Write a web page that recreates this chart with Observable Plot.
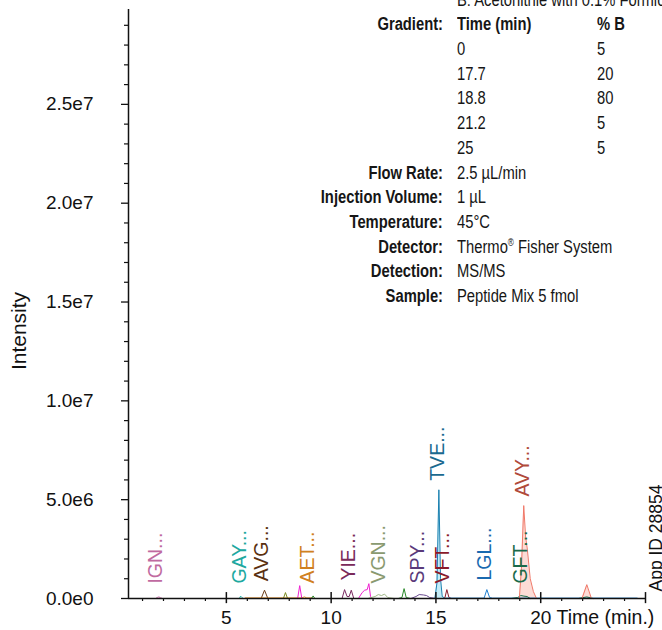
<!DOCTYPE html>
<html><head><meta charset="utf-8">
<script src="https://cdn.jsdelivr.net/npm/d3@7"></script>
<script src="https://cdn.jsdelivr.net/npm/@observablehq/plot@0.6"></script>
<style>
body{margin:0;background:#fff;}
#wrap{position:relative;width:662px;height:630px;overflow:hidden;background:#fff;}
#info{position:absolute;left:0;top:-12.3px;width:662px;font-family:"Liberation Sans",Arial,sans-serif;font-size:18px;line-height:24.7px;color:#161616;}
.row{position:relative;height:24.7px;white-space:nowrap;}
.row span{display:inline-block;transform:scaleX(0.82);}
.lab{position:absolute;right:219px;font-weight:bold;transform-origin:right center;}
.v1{position:absolute;left:457px;transform-origin:left center;}
.v2{position:absolute;left:597px;transform-origin:left center;}
.b{font-weight:bold;}
sup{font-size:10px;line-height:0;vertical-align:7px;}
</style></head>
<body><div id="wrap"><div id="chart"></div><div id="info"></div></div>
<script>
// ---- method text ----
const mobilePhaseB = "B: Acetonitrile with 0.1% Formic Acid";
const gradientHeader = ["Time (min)", "% B"];
const gradientTime = ["0", "17.7", "18.8", "21.2", "25"];
const gradientPctB = ["5", "20", "80", "5", "5"];
const conditionLabels = ["Flow Rate:", "Injection Volume:", "Temperature:", "Detector:", "Detection:", "Sample:"];
const conditionValues = ["2.5 µL/min", "1 µL", "45°C", "Thermo® Fisher System", "MS/MS", "Peptide Mix 5 fmol"];
const appId = "App ID 28854";

// ---- axes ----
const xDomain = [0.33, 25];
const yDomain = [0, 2.98e7];
const xMajor = [5, 10, 15, 20, 25];
const xMajorLabels = ["5", "10", "15", "20", ""];
const xMinor = [1,2,3,4,6,7,8,9,11,12,13,14,16,17,18,19,21,22,23,24];
const yMajor = [0, 5e6, 1e7, 1.5e7, 2e7, 2.5e7];
const yMinor = [1e6,2e6,3e6,4e6,6e6,7e6,8e6,9e6,11e6,12e6,13e6,14e6,16e6,17e6,18e6,19e6,21e6,22e6,23e6,24e6,26e6,27e6,28e6,29e6];

// ---- traces: [time (min), intensity] ----
const ignTrace = [[1.2,0],[1.62,0],[1.7,0.05e6],[1.78,0.08e6],[1.86,0.04e6],[1.95,0],[2.3,0]];
const gayTrace = [[5.4,0],[5.62,0],[5.68,0.12e6],[5.74,0.05e6],[5.8,0],[6.2,0]];
const avgTrace = [[6.2,0],[6.66,0],[6.82,0.42e6],[6.98,0],[7.5,0]];
const aetTrace = [[5.9,0.03e6],[8.6,0.03e6],[8.72,0.08e6],[8.84,0.03e6],[9.1,0.03e6]];
const oliveTrace = [[7.4,0],[7.72,0],[7.82,0.3e6],[7.92,0],[8.2,0]];
const magentaTrace = [[8.0,0],[8.4,0],[8.5,0.65e6],[8.6,0],[9.0,0],[11.3,0],[11.48,0.3e6],[11.6,0.42e6],[11.72,0.45e6],[11.8,0.75e6],[11.88,0.1e6],[11.95,0],[12.2,0]];
const greenTrace = [[8.9,0],[9.06,0],[9.14,0.13e6],[9.22,0],[13.2,0],[13.38,0.05e6],[13.48,0.5e6],[13.58,0.05e6],[13.8,0]];
const yieTrace = [[10.3,0],[10.52,0],[10.64,0.45e6],[10.76,0.1e6],[10.86,0.1e6],[10.96,0.42e6],[11.08,0],[11.4,0]];
const vgnTrace = [[11.8,0.02e6],[12.1,0.1e6],[12.25,0.2e6],[12.4,0.15e6],[12.55,0.22e6],[12.7,0.05e6],[13.0,0]];
const spyTrace = [[13.8,0],[14.05,0.1e6],[14.2,0.2e6],[14.4,0.18e6],[14.55,0.15e6],[14.7,0.05e6],[15.0,0]];
const tveTrace = [[13.0,0],[14.95,0],[15.05,0.8e6],[15.14,5.5e6],[15.22,1.0e6],[15.3,0.1e6],[15.45,0],[16.0,0]];
const vftTrace = [[15.2,0],[15.42,0],[15.52,0.45e6],[15.62,0.05e6],[15.75,0],[16.2,0]];
const lglTrace = [[15.5,0.02e6],[17.3,0.02e6],[17.43,0.45e6],[17.56,0.05e6],[17.7,0.02e6],[24.6,0.02e6]];
const gftTrace = [[18.6,0],[18.9,0.05e6],[19.05,0.15e6],[19.2,0.12e6],[19.35,0.1e6],[19.5,0],[21.8,0],[22.2,0.08e6],[22.5,0]];
const avyTrace = [[18.7,0],[18.98,0],[19.08,1.5e6],[19.19,4.7e6],[19.28,3.1e6],[19.36,2.5e6],[19.5,1.0e6],[19.65,0.35e6],[19.8,0],[21.8,0],[21.97,0],[22.2,0.7e6],[22.42,0],[22.8,0]];

const traceNames = ["IGN","GAY","AVG","AET","olive","magenta","green","YIE","VGN","SPY","TVE","VFT","LGL","GFT","AVY"];
const traceData = [ignTrace,gayTrace,avgTrace,aetTrace,oliveTrace,magentaTrace,greenTrace,yieTrace,vgnTrace,spyTrace,tveTrace,vftTrace,lglTrace,gftTrace,avyTrace];
const traceColors = ["#c86aa8","#22b0a8","#6b3c18","#e08a20","#7a8a20","#f020d0","#2a8a2a","#7a2a60","#a0b888","#6a4a90","#1a80b0","#8a2030","#2080d0","#1a7050","#f07868"];

// ---- peak labels ----
const peakLabels = ["IGN...","GAY...","AVG...","AET...","YIE...","VGN...","SPY...","VFT...","TVE...","LGL...","GFT...","AVY..."];
const peakLabelTime = [1.62,5.62,6.71,8.86,10.86,12.29,14.14,15.33,15.1,17.33,19.05,19.14];
const peakApex = [0.08e6,0.12e6,0.42e6,0.08e6,0.45e6,0.22e6,0.2e6,0.2e6,5.5e6,0.45e6,0.15e6,4.7e6];
const peakLabelColors = ["#c06aa0","#20a8a0","#5a3010","#d08020","#7a2a5a","#8a9a70","#5a3a7a","#8a1a2a","#1a6a90","#1a6ab0","#1a6a4a","#b04a3a"];

// ---- build tables ----
const lineRows = [];
traceData.forEach((pts, i) => pts.forEach(([t, v]) => lineRows.push({name: traceNames[i], color: traceColors[i], t, v})));
const labelRows = peakLabels.map((text, i) => ({text, t: peakLabelTime[i], v: Math.max(peakApex[i], 0.3e6), color: peakLabelColors[i]}));
const pt = d => ({t: d[0], v: d[1]});
const sci = d => d3.format(".1e")(d).replace("e+", "e");

const chart = Plot.plot({
  width: 662, height: 630,
  marginLeft: 128, marginRight: 17, marginTop: 9, marginBottom: 32,
  x: {domain: xDomain, axis: null},
  y: {domain: yDomain, axis: null},
  color: {type: "identity"},
  style: {fontFamily: "'Liberation Sans', Arial, sans-serif", fontSize: "19px", background: "white", color: "#111"},
  marks: [
    Plot.areaY(tveTrace.map(pt), {x: "t", y: "v", fill: "#c4ecf7"}),
    Plot.areaY(avyTrace.map(pt), {x: "t", y: "v", fill: "#fcdcd6"}),
    Plot.line(lineRows, {x: "t", y: "v", z: "name", stroke: "color", strokeWidth: 1}),
    Plot.text(labelRows, {x: "t", y: "v", text: "text", fill: "color", rotate: -90, textAnchor: "start", dy: -9, fontSize: 19.5}),
    Plot.ruleY([0], {stroke: "#111", strokeWidth: 1.5}),
    Plot.ruleX([xDomain[0]], {stroke: "#111", strokeWidth: 1.5}),
    Plot.axisY({ticks: yMajor, tickSize: 7, tickPadding: 28, tickFormat: sci, strokeWidth: 1.3, label: null}),
    Plot.axisY({ticks: yMinor, tickSize: 4, tickFormat: () => "", strokeWidth: 1.2, label: null}),
    Plot.ruleX(xMajor, {x: d => d, y1: -0.26e6, y2: 0.3e6, stroke: "#111", strokeWidth: 1.5}),
    Plot.axisX({ticks: xMajor, tickSize: 0, tickPadding: 12, tickFormat: d => xMajorLabels[xMajor.indexOf(d)], label: null}),
    Plot.axisX({ticks: xMinor, tickSize: 3, tickFormat: () => "", strokeWidth: 1.2, label: null}),
    Plot.text(["Time (min.)"], {frameAnchor: "bottom-right", textAnchor: "start", lineAnchor: "top", dx: -89, dy: 12, fontSize: 19.5}),
    Plot.text(["Intensity"], {frameAnchor: "left", rotate: -90, textAnchor: "middle", dx: -109, dy: 27, fontSize: 21}),
    Plot.text([appId], {frameAnchor: "bottom-right", rotate: -90, textAnchor: "start", lineAnchor: "top", dx: 4, dy: -7, fontSize: 17.5})
  ]
});
document.getElementById("chart").appendChild(chart);

// ---- method info block ----
const info = document.getElementById("info");
function addRow(label, v1, v2, bold) {
  const r = document.createElement("div");
  r.className = "row";
  const esc = s => s.replace("®", "<sup>®</sup>");
  r.innerHTML = (label ? `<span class="lab">${label}</span>` : "") +
    `<span class="v1${bold ? " b" : ""}">${esc(v1)}</span>` +
    (v2 ? `<span class="v2${bold ? " b" : ""}">${v2}</span>` : "");
  info.appendChild(r);
}
addRow("", mobilePhaseB, "", false);
addRow("Gradient:", gradientHeader[0], gradientHeader[1], true);
gradientTime.forEach((t, i) => addRow("", t, gradientPctB[i], false));
conditionLabels.forEach((l, i) => addRow(l, conditionValues[i], "", false));
</script>
</body></html>
